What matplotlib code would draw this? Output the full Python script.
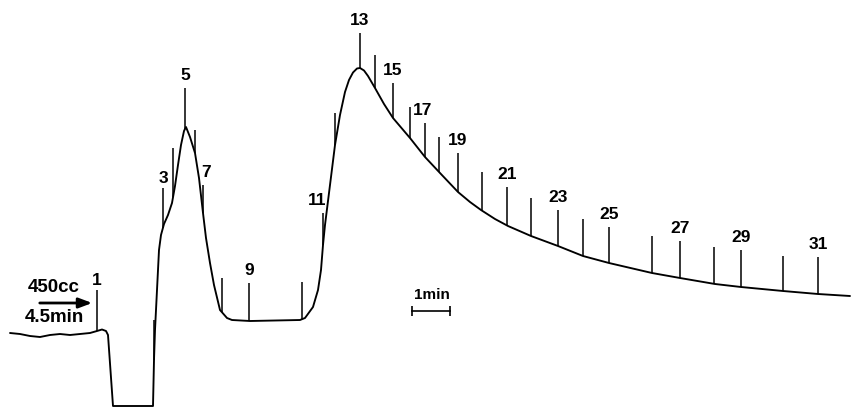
import numpy as np
import matplotlib
matplotlib.use("Agg")
import matplotlib.pyplot as plt

# Recorded trace: time axis (chart units) and deflection (chart units, downward positive)
trace_t = [10, 20, 30, 40, 50, 60, 70, 80, 90, 97, 102, 106, 108, 113,
           153, 154, 155, 157, 159, 161, 164, 168, 172, 175, 178, 181, 184, 186,
           190, 195, 199, 203, 206, 210, 214, 220, 227, 232, 250, 300,
           305, 313, 318, 321, 323, 325, 330, 335, 340, 345, 349, 353, 357, 360,
           364, 368, 375, 384, 393, 410, 425, 440, 458, 470, 481, 495, 508, 531,
           558, 583, 609, 652, 680, 715, 741, 783, 818, 850]
trace_y = [333, 334, 336, 337, 335, 334, 335, 334, 333, 331, 329.5, 331, 335, 406,
           406, 360, 330, 290, 250, 235, 224, 215, 203, 186, 165, 145, 131, 127,
           137, 153, 178, 213, 238, 263, 285, 310, 318, 320, 321, 320,
           318, 307, 290, 270, 245, 225, 185, 145, 115, 92, 80, 72.5, 68.5, 68,
           70.5, 76, 88, 104, 118, 138, 157, 173, 192, 202, 210, 219, 226, 236,
           246, 256, 263, 273, 278, 284, 287, 291, 294, 296]

# Event markers: number, time, top end of the marker
marker_num = list(range(1, 32))
marker_t = [97, 154, 163, 173, 185, 195, 203, 222, 249, 302, 323, 335, 360, 375,
            393, 410, 425, 439, 458, 482, 507, 531, 558, 583, 609, 652, 680,
            714, 741, 783, 818]
marker_top = [290, 320, 188, 148, 88, 130, 185, 278, 283, 282, 213, 113, 33, 55,
              83, 107, 123, 137, 153, 172, 187, 198, 210, 219, 227, 236, 241,
              247, 250, 256, 257]
label_shift = {7: 3, 11: -6, 17: -2}

infusion_text = ["450cc", "4.5min"]
scale_text = "1min"
scale_span = [412, 450]

fig = plt.figure(figsize=(8.52, 4.07), dpi=100)
ax = fig.add_axes([0, 0, 1, 1])
ax.set_xlim(0, 852)
ax.set_ylim(407, 0)
ax.axis("off")

font = dict(family=["Liberation Sans", "DejaVu Sans"], fontweight="bold", color="black")

# trace
ax.plot(trace_t, trace_y, color="black", lw=1.35, solid_joinstyle="round",
        solid_capstyle="round")

# event markers rise from the trace
base = np.interp(marker_t, trace_t, trace_y)
ax.vlines(marker_t, marker_top, base, color="black", lw=1.1)
for n, t, top in zip(marker_num, marker_t, marker_top):
    if n % 2 == 1:
        ax.text(t + label_shift.get(n, 0), top - (2 if n in (1, 3) else 5), str(n),
                ha="center", va="bottom", fontsize=12.5, **font)

# infusion annotation
ax.text(54, 296, infusion_text[0], ha="center", va="bottom", fontsize=13.5, **font)
ax.text(54, 309, infusion_text[1], ha="center", va="top", fontsize=13.5, **font)
ax.annotate("", xy=(95, 303), xytext=(37, 303),
            arrowprops=dict(arrowstyle="-|>,head_length=0.8,head_width=0.3",
                            color="black", lw=2.0))

# time scale bar
ax.plot(scale_span, [311, 311], color="black", lw=1.2)
ax.vlines(scale_span, 306, 316, color="black", lw=1.2)
ax.text(np.mean(scale_span) + 1, 302, scale_text, ha="center", va="bottom",
        fontsize=11, **font)

fig.savefig("out.png", dpi=100, facecolor="white")
